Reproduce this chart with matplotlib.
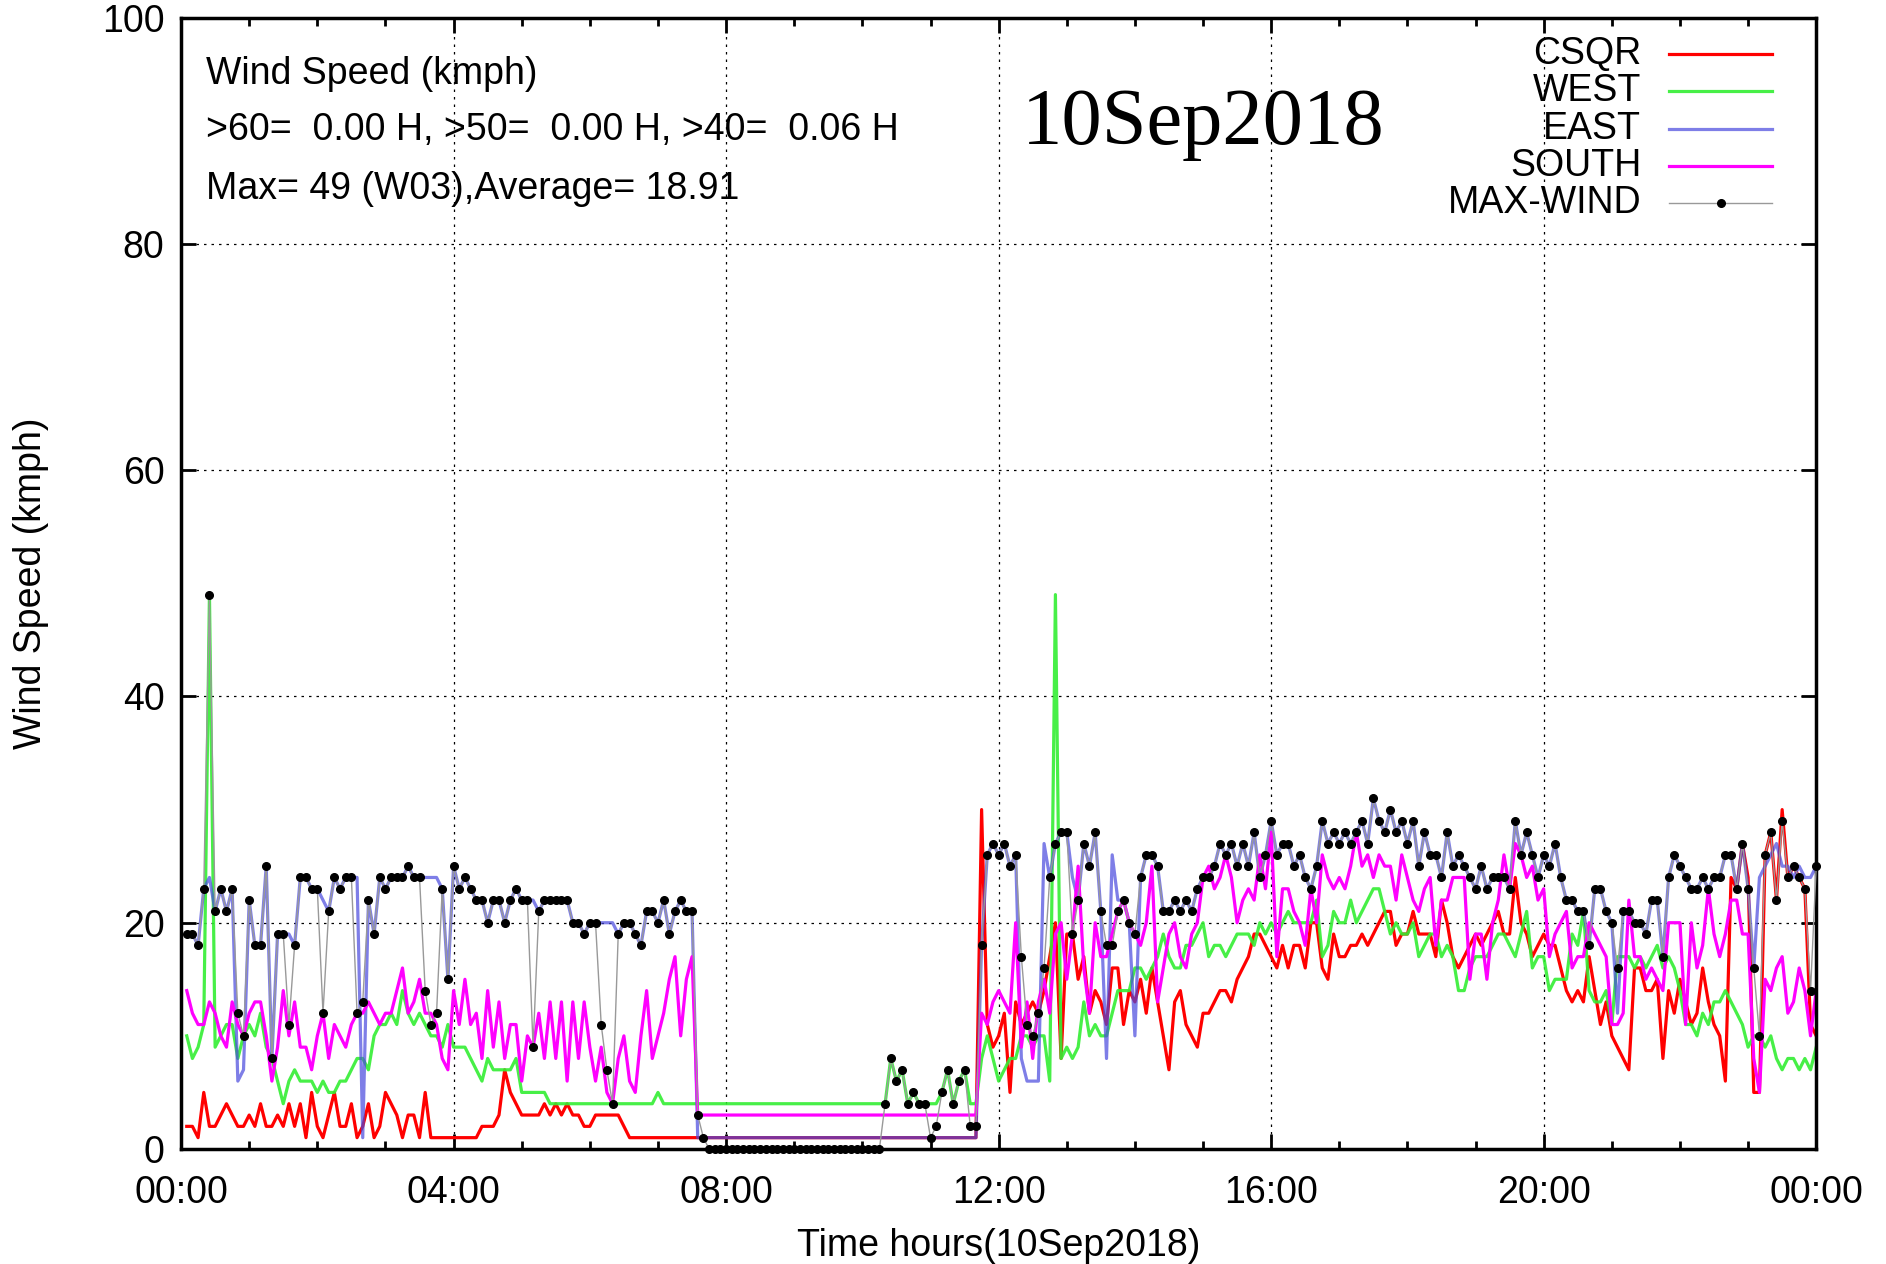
import matplotlib
matplotlib.use('Agg')
import matplotlib.pyplot as plt
from matplotlib.lines import Line2D
import numpy as np

# 5-minute samples, 00:05 ... 24:00 (12 values per hour)
csqr = [2,2,1,5,2,2,3,4,3,2,2,3, 2,4,2,2,3,2,4,2,4,1,5,2,
        1,3,5,2,2,4,1,2,4,1,2,5, 4,3,1,3,3,1,5,1,1,1,1,1,
        1,1,1,1,2,2,2,3,7,5,4,3, 3,3,3,4,3,4,3,4,3,3,2,2,
        3,3,3,3,3,2,1,1,1,1,1,1, 1,1,1,1,1,1,1,1,1,1,1,1,
        1,1,1,1,1,1,1,1,1,1,1,1, 1,1,1,1,1,1,1,1,1,1,1,1,
        1,1,1,1,1,1,1,1,1,1,1,1, 1,1,1,1,1,1,1,1,30,11,9,10,
        12,5,13,11,12,13,12,14,17,20,8,19, 19,15,17,12,14,13,11,16,16,11,14,13,
        15,12,16,13,10,7,13,14,11,10,9,12, 12,13,14,14,13,15,16,17,19,19,18,17,
        16,18,16,18,18,16,20,20,16,15,19,17, 17,18,18,19,18,19,20,21,21,18,19,19,
        21,19,19,19,17,22,20,17,16,17,18,19, 18,19,20,21,19,19,24,20,19,17,18,19,
        18,18,16,14,13,14,13,17,14,11,13,10, 9,8,7,16,16,14,14,15,8,14,12,15,
        13,11,12,16,13,11,10,6,24,23,27,24, 5,5,26,28,22,30,24,25,24,23,11,10]

west = [10,8,9,11,49,9,10,11,11,8,10,11, 10,12,9,8,6,4,6,7,6,6,6,5,
        6,5,5,6,6,7,8,8,7,10,11,11, 12,11,14,12,11,12,11,10,10,9,11,9,
        9,9,8,7,6,8,7,7,7,7,8,5, 5,5,5,5,4,4,4,4,4,4,4,4,
        4,4,4,4,4,4,4,4,4,4,4,5, 4,4,4,4,4,4,4,4,4,4,4,4,
        4,4,4,4,4,4,4,4,4,4,4,4, 4,4,4,4,4,4,4,4,4,4,4,4,
        4,4,4,4,8,6,7,4,5,4,4,4, 4,5,7,4,6,7,4,4,8,10,8,6,
        7,8,8,10,10,9,10,10,6,49,8,9, 8,9,13,10,11,10,10,12,14,14,14,16,
        16,15,16,17,19,17,16,16,18,18,19,20, 17,18,18,17,18,19,19,19,18,20,19,20,
        19,20,21,20,20,20,20,22,17,18,21,20, 20,22,20,21,22,23,23,21,19,20,19,19,
        20,17,18,19,19,17,18,17,14,14,16,17, 17,17,18,19,19,18,17,19,21,16,17,17,
        14,15,15,15,19,18,21,14,13,13,14,11, 17,17,17,16,17,16,17,18,16,17,16,14,
        11,11,10,12,11,13,13,14,13,12,11,9, 10,10,9,10,8,7,8,8,7,8,7,9]

east = [19,19,18,23,24,21,23,21,23,6,7,22, 18,18,25,8,19,19,19,18,24,24,23,23,
        22,21,24,23,24,24,24,1,22,19,24,23, 24,24,24,25,24,24,24,24,24,23,15,25,
        23,24,23,22,22,20,22,22,20,22,23,22, 22,22,21,22,22,22,22,22,20,20,19,20,
        20,20,20,20,19,20,20,19,18,21,21,20, 22,19,21,22,21,21,1,1,1,1,1,1,
        1,1,1,1,1,1,1,1,1,1,1,1, 1,1,1,1,1,1,1,1,1,1,1,1,
        1,1,1,1,1,1,1,1,1,1,1,1, 1,1,1,1,1,1,1,1,18,26,27,26,
        27,25,26,8,6,6,6,27,24,27,28,28, 24,22,27,25,28,21,8,26,22,22,20,10,
        24,26,26,25,21,21,22,21,22,21,23,24, 24,25,27,26,27,25,27,25,28,24,26,29,
        26,27,27,25,26,24,23,25,29,27,28,27, 28,27,28,29,27,31,29,28,30,28,29,27,
        29,25,28,26,26,24,28,25,26,25,24,23, 25,23,24,24,24,23,29,26,28,26,24,26,
        25,27,24,22,22,21,21,18,23,23,21,20, 12,21,21,20,20,19,22,22,17,24,26,25,
        24,23,23,24,23,24,24,26,26,23,27,23, 16,24,25,26,27,25,25,24,25,24,24,25]

south = [14,12,11,11,13,12,10,9,13,11,10,12, 13,13,10,6,9,14,10,13,9,9,7,10,
         12,8,11,10,9,11,12,12,13,12,11,12, 12,14,16,12,13,15,12,12,11,8,7,14,
         11,15,11,12,8,14,9,13,8,11,11,6, 10,9,12,8,13,8,13,6,13,8,13,9,
         6,9,5,4,8,10,6,5,10,14,8,10, 12,15,17,10,15,17,3,3,3,3,3,3,
         3,3,3,3,3,3,3,3,3,3,3,3, 3,3,3,3,3,3,3,3,3,3,3,3,
         3,3,3,3,3,3,3,3,3,3,3,3, 3,3,3,3,3,3,3,3,12,11,13,14,
         13,12,20,9,13,8,13,15,12,19,20,15, 19,25,16,12,20,17,17,19,21,22,20,19,
         18,20,25,13,16,19,20,17,16,19,20,24, 25,23,24,26,24,20,22,23,22,26,23,28,
         17,23,23,21,20,18,23,20,26,24,23,24, 23,25,28,25,26,24,26,25,25,22,26,24,
         22,21,23,24,18,22,22,24,24,24,15,19, 19,15,20,22,26,23,27,26,24,25,22,23,
         17,19,20,21,16,17,17,20,19,18,17,11, 11,12,22,17,17,15,16,15,14,20,20,20,
         11,20,16,18,23,19,17,19,22,22,19,19, 8,5,15,14,16,17,12,13,16,14,10,14]

max_wind = [19,19,18,23,49,21,23,21,23,12,10,22, 18,18,25,8,19,19,11,18,24,24,23,23,
            12,21,24,23,24,24,12,13,22,19,24,23, 24,24,24,25,24,24,14,11,12,23,15,25,
            23,24,23,22,22,20,22,22,20,22,23,22, 22,9,21,22,22,22,22,22,20,20,19,20,
            20,11,7,4,19,20,20,19,18,21,21,20, 22,19,21,22,21,21,3,1,0,0,0,0,
            0,0,0,0,0,0,0,0,0,0,0,0, 0,0,0,0,0,0,0,0,0,0,0,0,
            0,0,0,4,8,6,7,4,5,4,4,1, 2,5,7,4,6,7,2,2,18,26,27,26,
            27,25,26,17,11,10,12,16,24,27,28,28, 19,22,27,25,28,21,18,18,21,22,20,19,
            24,26,26,25,21,21,22,21,22,21,23,24, 24,25,27,26,27,25,27,25,28,24,26,29,
            26,27,27,25,26,24,23,25,29,27,28,27, 28,27,28,29,27,31,29,28,30,28,29,27,
            29,25,28,26,26,24,28,25,26,25,24,23, 25,23,24,24,24,23,29,26,28,26,24,26,
            25,27,24,22,22,21,21,18,23,23,21,20, 16,21,21,20,20,19,22,22,17,24,26,25,
            24,23,23,24,23,24,24,26,26,23,27,23, 16,10,26,28,22,29,24,25,24,23,14,25]

hours = np.arange(1, len(csqr) + 1) * 5 / 60.0
tick_hours = [0, 4, 8, 12, 16, 20, 24]
tick_labels = ['00:00', '04:00', '08:00', '12:00', '16:00', '20:00', '00:00']

series = [('CSQR', csqr, '#ff0000', 1.0),
          ('WEST', west, '#33ee33', 0.9),
          ('EAST', east, '#4848dd', 0.7),
          ('SOUTH', south, '#ff00ff', 1.0)]

FS = 27
plt.rcParams['font.family'] = ['Liberation Sans', 'DejaVu Sans']

fig = plt.figure(figsize=(18.86, 12.64), dpi=100)
ax = fig.add_axes([0.096, 0.091, 0.867, 0.895])

for name, vals, color, alpha in series:
    ax.plot(hours, vals, color=color, lw=2.3, alpha=alpha)
ax.plot(hours, max_wind, color='#999999', lw=1.0, marker='o', ms=5.5,
        mfc='black', mec='black', clip_on=False, zorder=5)

ax.set_xlim(0, 24)
ax.set_ylim(0, 100)
ax.set_xticks(tick_hours)
ax.set_xticklabels(tick_labels)
ax.set_xticks(range(25), minor=True)
ax.set_yticks(range(0, 101, 20))

ax.tick_params(which='both', direction='in', top=True, right=True, width=2, labelsize=FS)
ax.tick_params(which='major', length=11)
ax.tick_params(which='minor', length=6)
ax.tick_params(axis='x', pad=19)
ax.tick_params(axis='y', pad=12)
for s in ax.spines.values():
    s.set_linewidth(2.5)

ax.grid(True, which='major', color='black', lw=0.9, linestyle=(0, (2, 4)))

ax.set_xlabel('Time hours(10Sep2018)', fontsize=FS, labelpad=12)
ax.set_ylabel('Wind Speed (kmph)', fontsize=FS, labelpad=38)

# info text, top left
ax.text(0.015, 0.950, 'Wind Speed (kmph)', transform=ax.transAxes, fontsize=FS, va='center')
ax.text(0.015, 0.901, '>60=  0.00 H, >50=  0.00 H, >40=  0.06 H', transform=ax.transAxes,
        fontsize=FS, va='center')
ax.text(0.015, 0.849, 'Max= 49 (W03),Average= 18.91', transform=ax.transAxes,
        fontsize=FS, va='center')

ax.text(0.514, 0.888, '10Sep2018', transform=ax.transAxes, fontsize=58,
        family=['Liberation Serif', 'DejaVu Serif'], va='baseline')

# key, top right
rows = [0.968, 0.935, 0.902, 0.869, 0.836]
for (name, vals, color, alpha), y in zip(series, rows):
    ax.text(0.893, y, name, transform=ax.transAxes, fontsize=FS, ha='right', va='center')
    ax.add_line(Line2D([0.910, 0.973], [y, y], transform=ax.transAxes, color=color,
                       lw=2.3, alpha=alpha))
ax.text(0.893, rows[4], 'MAX-WIND', transform=ax.transAxes, fontsize=FS, ha='right', va='center')
ax.add_line(Line2D([0.910, 0.973], [rows[4], rows[4]], transform=ax.transAxes,
                   color='#999999', lw=1.0))
ax.add_line(Line2D([0.9415], [rows[4]], transform=ax.transAxes, marker='o', ms=5.5,
                   color='black', lw=0))

fig.savefig('out.png', dpi=100)
